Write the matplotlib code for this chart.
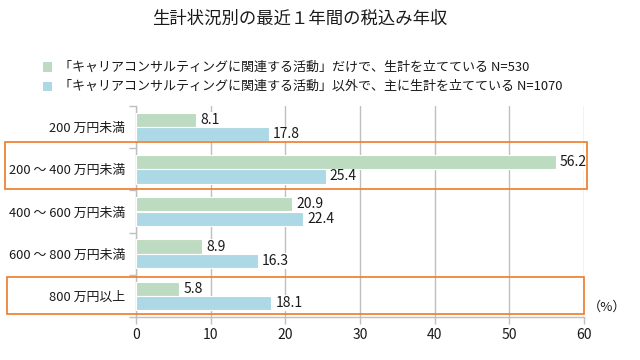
import matplotlib
matplotlib.use("Agg")
import matplotlib.pyplot as plt
from matplotlib.patches import Rectangle
from matplotlib.transforms import blended_transform_factory
import numpy as np

plt.rcParams['font.family'] = ['Noto Sans CJK JP', 'DejaVu Sans']

title = "生計状況別の最近１年間の税込み年収"
categories = ["200 万円未満", "200 ～ 400 万円未満", "400 ～ 600 万円未満", "600 ～ 800 万円未満", "800 万円以上"]
series_names = ["「キャリアコンサルティングに関連する活動」だけで、生計を立てている N=530",
                "「キャリアコンサルティングに関連する活動」以外で、主に生計を立てている N=1070"]
only_career = [8.1, 56.2, 20.9, 8.9, 5.8]
other_main = [17.8, 25.4, 22.4, 16.3, 18.1]
xticks = [0, 10, 20, 30, 40, 50, 60]
highlight = [1, 4]

green = "#BDDBC0"
blue = "#ADD8E6"
orange = "#F07A28"
grid_c = "#BFBFBF"
text_c = "#1a1a1a"

fig = plt.figure(figsize=(6.4, 3.6), dpi=100)
ax = fig.add_axes([136/640, 1-317/360, (584-136)/640, (317-106)/360])

y = np.arange(len(categories))
h = 0.34
off = 0.17
b1 = ax.barh(y - off, only_career, height=h, color=green, edgecolor="white", linewidth=0.8, zorder=3)
b2 = ax.barh(y + off, other_main, height=h, color=blue, edgecolor="white", linewidth=0.8, zorder=3)

for bars, vals in ((b1, only_career), (b2, other_main)):
    for rect, v in zip(bars, vals):
        ax.annotate(f"{v:.1f}", (rect.get_width(), rect.get_y() + rect.get_height()/2),
                    xytext=(3, 0), textcoords="offset points", va="center", ha="left",
                    fontsize=10, color=text_c, zorder=5,
                    bbox=dict(boxstyle="square,pad=0.05", fc="white", ec="none"))

ax.set_xlim(0, 60)
ax.set_ylim(len(categories) - 0.5, -0.5)
ax.set_xticks(xticks)
ax.set_xticklabels([str(t) for t in xticks], fontsize=10, color=text_c)
ax.set_yticks(np.arange(len(categories) + 1) - 0.5)
ax.set_yticklabels([])
ax.set_yticks(y, minor=True)
ax.set_yticklabels(categories, minor=True, fontsize=9.3, color=text_c)
ax.tick_params(axis="y", which="major", length=5, color=grid_c, width=1)
ax.tick_params(axis="y", which="minor", length=0, pad=8)
ax.tick_params(axis="x", length=5, color=grid_c, width=1, pad=3)
ax.grid(axis="x", color=grid_c, linewidth=1, zorder=0)
for s in ("top", "right"):
    ax.spines[s].set_visible(False)
for s in ("left", "bottom"):
    ax.spines[s].set_color(grid_c)
    ax.spines[s].set_linewidth(1)

# highlight boxes
tr = blended_transform_factory(fig.transFigure, ax.transData)
boxes = {1: (5/640, 587/640, 0.35, 1.47), 4: (7/640, 584/640, 3.55, 4.43)}
for i in highlight:
    x0, x1, yt, yb = boxes[i]
    ax.add_patch(Rectangle((x0, yt), x1 - x0, yb - yt, transform=tr, fill=False,
                           edgecolor=orange, linewidth=1.2, clip_on=False, zorder=6))

fig.text(607/640, 1-307/360, "（%）", ha="center", va="center", fontsize=9.5, color=text_c)
fig.text(300/640, 1-19/360, title, ha="center", va="center", fontsize=12.5, color=text_c)

# legend
for k, (name, col) in enumerate(zip(series_names, [green, blue])):
    yc = 1 - (67 + 19.5*k)/360
    fig.patches.append(Rectangle((43/640, yc - 4.5/360), 9/640, 9/360, transform=fig.transFigure,
                                 facecolor=col, edgecolor="none"))
    fig.text(59/640, yc, name, ha="left", va="center", fontsize=9.4, color=text_c)

fig.savefig("out.png", dpi=100)
